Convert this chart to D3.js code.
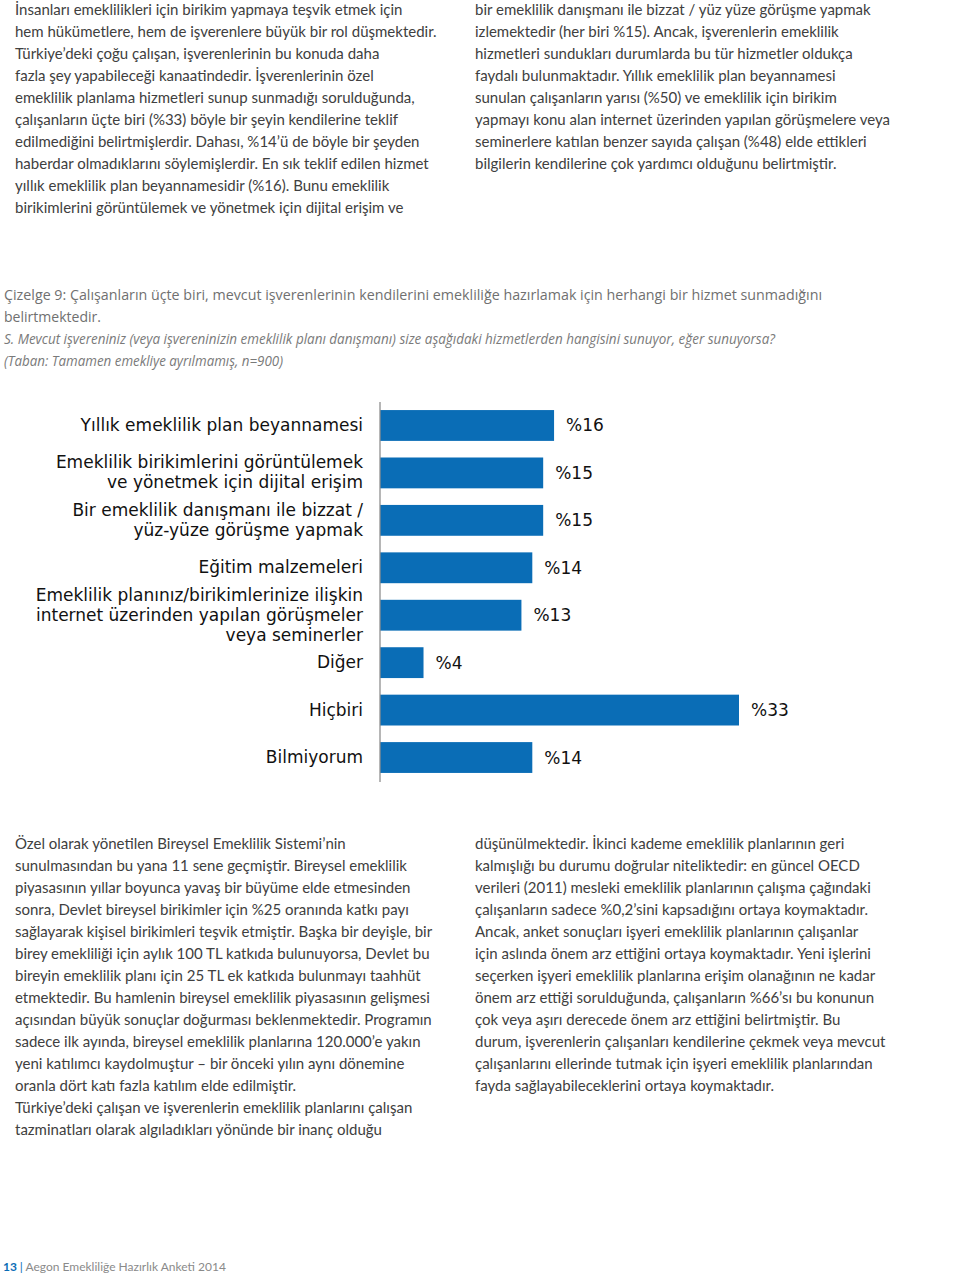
<!DOCTYPE html>
<html><head><meta charset="utf-8">
<script src="https://cdn.jsdelivr.net/npm/d3@7"></script>
<style>
html,body{margin:0;padding:0;background:#fff;}
svg{display:block;}
</style></head>
<body>
<svg id="page" width="960" height="1274"></svg>
<script>
// ---- chart data ----
const categories = [
  "Yıllık emeklilik plan beyannamesi",
  "Emeklilik birikimlerini görüntülemek|ve yönetmek için dijital erişim",
  "Bir emeklilik danışmanı ile bizzat /|yüz-yüze görüşme yapmak",
  "Eğitim malzemeleri",
  "Emeklilik planınız/birikimlerinize ilişkin|internet üzerinden yapılan görüşmeler|veya seminerler",
  "Diğer",
  "Hiçbiri",
  "Bilmiyorum"
];
const values = [16, 15, 15, 14, 13, 4, 33, 14];
const valueLabels = ["%16", "%15", "%15", "%14", "%13", "%4", "%33", "%14"];

// ---- page texts ----
const topLeft = [
  "İnsanları emeklilikleri için birikim yapmaya teşvik etmek için",
  "hem hükümetlere, hem de işverenlere büyük bir rol düşmektedir.",
  "Türkiye’deki çoğu çalışan, işverenlerinin bu konuda daha",
  "fazla şey yapabileceği kanaatindedir. İşverenlerinin özel",
  "emeklilik planlama hizmetleri sunup sunmadığı sorulduğunda,",
  "çalışanların üçte biri (%33) böyle bir şeyin kendilerine teklif",
  "edilmediğini belirtmişlerdir. Dahası, %14’ü de böyle bir şeyden",
  "haberdar olmadıklarını söylemişlerdir. En sık teklif edilen hizmet",
  "yıllık emeklilik plan beyannamesidir (%16). Bunu emeklilik",
  "birikimlerini görüntülemek ve yönetmek için dijital erişim ve"
];
const topRight = [
  "bir emeklilik danışmanı ile bizzat / yüz yüze görüşme yapmak",
  "izlemektedir (her biri %15). Ancak, işverenlerin emeklilik",
  "hizmetleri sundukları durumlarda bu tür hizmetler oldukça",
  "faydalı bulunmaktadır. Yıllık emeklilik plan beyannamesi",
  "sunulan çalışanların yarısı (%50) ve emeklilik için birikim",
  "yapmayı konu alan internet üzerinden yapılan görüşmelere veya",
  "seminerlere katılan benzer sayıda çalışan (%48) elde ettikleri",
  "bilgilerin kendilerine çok yardımcı olduğunu belirtmiştir."
];
const captionLines = [
  "Çizelge 9: Çalışanların üçte biri, mevcut işverenlerinin kendilerini emekliliğe hazırlamak için herhangi bir hizmet sunmadığını",
  "belirtmektedir."
];
const questionLines = [
  "S. Mevcut işvereniniz (veya işvereninizin emeklilik planı danışmanı) size aşağıdaki hizmetlerden hangisini sunuyor, eğer sunuyorsa?",
  "(Taban: Tamamen emekliye ayrılmamış, n=900)"
];
const bottomLeft = [
  "Özel olarak yönetilen Bireysel Emeklilik Sistemi’nin",
  "sunulmasından bu yana 11 sene geçmiştir. Bireysel emeklilik",
  "piyasasının yıllar boyunca yavaş bir büyüme elde etmesinden",
  "sonra, Devlet bireysel birikimler için %25 oranında katkı payı",
  "sağlayarak kişisel birikimleri teşvik etmiştir. Başka bir deyişle, bir",
  "birey emekliliği için aylık 100 TL katkıda bulunuyorsa, Devlet bu",
  "bireyin emeklilik planı için 25 TL ek katkıda bulunmayı taahhüt",
  "etmektedir. Bu hamlenin bireysel emeklilik piyasasının gelişmesi",
  "açısından büyük sonuçlar doğurması beklenmektedir. Programın",
  "sadece ilk ayında, bireysel emeklilik planlarına 120.000’e yakın",
  "yeni katılımcı kaydolmuştur – bir önceki yılın aynı dönemine",
  "oranla dört katı fazla katılım elde edilmiştir.",
  "Türkiye’deki çalışan ve işverenlerin emeklilik planlarını çalışan",
  "tazminatları olarak algıladıkları yönünde bir inanç olduğu"
];
const bottomRight = [
  "düşünülmektedir. İkinci kademe emeklilik planlarının geri",
  "kalmışlığı bu durumu doğrular niteliktedir: en güncel OECD",
  "verileri (2011) mesleki emeklilik planlarının çalışma çağındaki",
  "çalışanların sadece %0,2’sini kapsadığını ortaya koymaktadır.",
  "Ancak, anket sonuçları işyeri emeklilik planlarının çalışanlar",
  "için aslında önem arz ettiğini ortaya koymaktadır. Yeni işlerini",
  "seçerken işyeri emeklilik planlarına erişim olanağının ne kadar",
  "önem arz ettiği sorulduğunda, çalışanların %66’sı bu konunun",
  "çok veya aşırı derecede önem arz ettiğini belirtmiştir. Bu",
  "durum, işverenlerin çalışanları kendilerine çekmek veya mevcut",
  "çalışanlarını ellerinde tutmak için işyeri emeklilik planlarından",
  "fayda sağlayabileceklerini ortaya koymaktadır."
];
const footerNum = "13";
const footerText = "Aegon Emekliliğe Hazırlık Anketi 2014";

// ---- drawing ----
const svg = d3.select("#page");
const bodyFont = "Lato, 'Open Sans', sans-serif";
const bodyColor = "#404040";

function paragraph(lines, x, y0, lh) {
  svg.append("g").selectAll("text").data(lines).join("text")
    .attr("x", x).attr("y", (d, i) => y0 + i * lh)
    .attr("font-family", bodyFont).attr("font-size", 15)
    .attr("fill", bodyColor).text(d => d);
}
paragraph(topLeft, 15, 15, 22);
paragraph(topRight, 475, 15, 22);
paragraph(bottomLeft, 15, 849, 22);
paragraph(bottomRight, 475, 849, 22);

// caption
const capLens = [818, 97];
svg.append("g").selectAll("text").data(captionLines).join("text")
  .attr("x", 4).attr("y", (d, i) => 300 + i * 22)
  .attr("font-family", "'Open Sans', sans-serif").attr("font-size", 15)
  .attr("fill", "#707070")
  .attr("textLength", (d, i) => capLens[i]).attr("lengthAdjust", "spacingAndGlyphs")
  .text(d => d);
const qLens = [771, 279];
svg.append("g").selectAll("text").data(questionLines).join("text")
  .attr("x", 4).attr("y", (d, i) => 344 + i * 22)
  .attr("font-family", "'Open Sans', sans-serif").attr("font-size", 14.5)
  .attr("font-style", "italic")
  .attr("fill", "#7a7a7a")
  .attr("textLength", (d, i) => qLens[i]).attr("lengthAdjust", "spacingAndGlyphs")
  .text(d => d);

// bar chart
const x = d3.scaleLinear().domain([0, 33]).range([380, 739]);
const y = d3.scaleBand().domain(categories).range([402, 781])
  .paddingInner(0.35).paddingOuter(0.17);
const barColor = "#0a6db6";
const chart = svg.append("g");

chart.selectAll("rect.bar").data(categories).join("rect")
  .attr("class", "bar")
  .attr("x", x(0)).attr("y", d => y(d))
  .attr("width", (d, i) => x(values[i]) - x(0))
  .attr("height", y.bandwidth())
  .attr("fill", barColor);

chart.append("line")
  .attr("x1", x(0)).attr("x2", x(0))
  .attr("y1", 402).attr("y2", 782)
  .attr("stroke", "#8f8f8f").attr("stroke-width", 1.3);

const labelFont = "'DejaVu Sans', Verdana, sans-serif";
chart.selectAll("text.val").data(categories).join("text")
  .attr("class", "val")
  .attr("x", (d, i) => x(values[i]) + 12)
  .attr("y", d => y(d) + y.bandwidth() / 2 + 6)
  .attr("font-family", labelFont).attr("font-size", 17)
  .attr("fill", "#111").text((d, i) => valueLabels[i]);

const catG = chart.selectAll("text.cat").data(categories).join("text")
  .attr("class", "cat")
  .attr("text-anchor", "end")
  .attr("font-family", labelFont).attr("font-size", 17)
  .attr("fill", "#111");
catG.each(function(d) {
  const parts = d.split("|");
  const cy = y(d) + y.bandwidth() / 2 + 5.5;
  const lh = 20;
  const start = cy - (parts.length - 1) * lh / 2;
  d3.select(this).selectAll("tspan").data(parts).join("tspan")
    .attr("x", 363).attr("y", (p, j) => start + j * lh).text(p => p);
});

// footer
const ft = svg.append("text").attr("x", 3).attr("y", 1271)
  .attr("font-family", bodyFont).attr("font-size", 12);
ft.append("tspan").attr("fill", "#0a6db6").attr("font-weight", "bold").text(footerNum + " ");
ft.append("tspan").attr("fill", "#0a6db6").text("| ");
ft.append("tspan").attr("fill", "#8a8a8a").text(footerText);
</script>
</body></html>
